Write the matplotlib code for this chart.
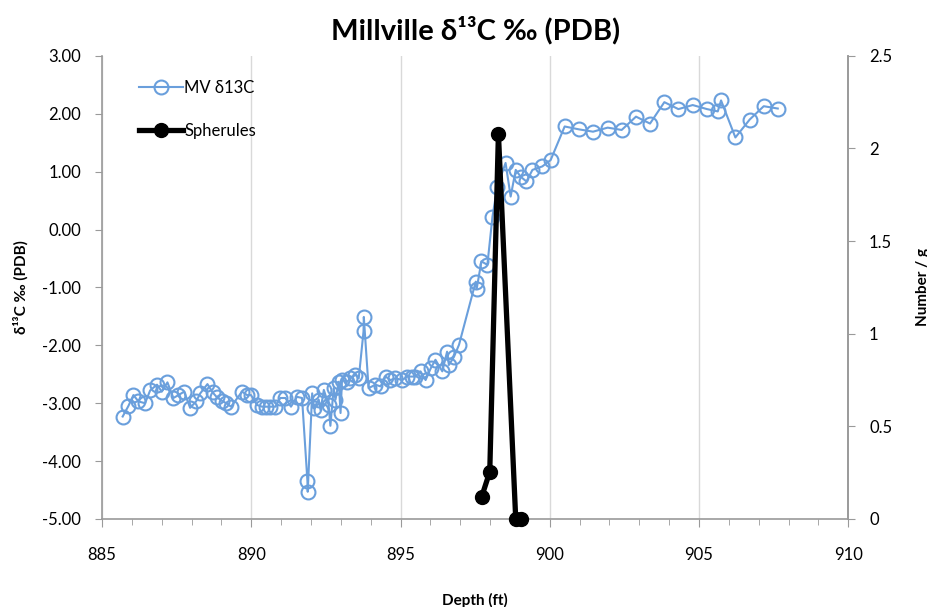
import numpy as np
import pandas as pd
from matplotlib import pyplot as plt
from matplotlib.ticker import MultipleLocator

plt.rcParams['font.family'] = ['Lato', 'DejaVu Sans']

# dados (profundidade em ft, delta 13C em permil)
profundidade_c = [885.69, 885.88, 886.05, 886.22, 886.44, 886.61, 886.84, 887.00, 887.19, 887.39,
                  887.56, 887.75, 887.95, 888.15, 888.29, 888.53, 888.70, 888.85, 889.02, 889.16,
                  889.32, 889.69, 889.86, 889.99, 890.19, 890.36, 890.50, 890.64, 890.81, 890.97,
                  891.14, 891.33, 891.53, 891.70, 891.88, 891.89, 892.04, 892.09, 892.26, 892.32,
                  892.43, 892.59, 892.65, 892.76, 892.82, 892.93, 892.99, 893.04, 893.21, 893.32,
                  893.49, 893.60, 893.76, 893.77, 893.93, 894.16, 894.33, 894.50, 894.66, 894.83,
                  895.06, 895.22, 895.39, 895.50, 895.67, 895.84, 896.01, 896.17, 896.40, 896.56,
                  896.62, 896.79, 896.96, 897.52, 897.55, 897.71, 897.91, 898.08, 898.24, 898.52,
                  898.69, 898.86, 899.03, 899.22, 899.42, 899.75, 900.03, 900.50, 900.98, 901.45,
                  901.94, 902.41, 902.89, 903.36, 903.84, 904.31, 904.79, 905.27, 905.63, 905.74,
                  906.22, 906.70, 907.17, 907.64]
delta_c = [-3.23, -3.05, -2.86, -2.97, -3.00, -2.78, -2.68, -2.80, -2.64, -2.91,
           -2.86, -2.80, -3.08, -2.97, -2.83, -2.67, -2.81, -2.90, -2.96, -3.00,
           -3.06, -2.80, -2.86, -2.86, -3.03, -3.06, -3.06, -3.06, -3.06, -2.91,
           -2.91, -3.06, -2.89, -2.91, -4.34, -4.53, -2.83, -3.09, -2.94, -3.12,
           -2.77, -3.03, -3.39, -2.74, -2.94, -2.63, -3.17, -2.60, -2.63, -2.57,
           -2.51, -2.57, -1.76, -1.51, -2.74, -2.68, -2.71, -2.54, -2.60, -2.57,
           -2.60, -2.54, -2.54, -2.54, -2.45, -2.60, -2.40, -2.25, -2.45, -2.11,
           -2.34, -2.20, -1.99, -0.90, -1.03, -0.55, -0.61, 0.22, 0.74, 1.15,
           0.57, 1.03, 0.91, 0.83, 1.03, 1.09, 1.20, 1.78, 1.73, 1.69,
           1.76, 1.72, 1.95, 1.83, 2.20, 2.08, 2.15, 2.08, 2.04, 2.23,
           1.59, 1.90, 2.13, 2.09]

profundidade_esf = [897.72, 897.99, 898.28, 898.86, 899.03]
esferulas = [0.12, 0.255, 2.08, 0.0, 0.0]

azul = '#6a9fdc'
cinza = '#9a9a9a'

fig, ax = plt.subplots(figsize=(9.28, 6.07), dpi=100)
fig.subplots_adjust(left=0.110, right=0.914, bottom=0.145, top=0.908)
ax2 = ax.twinx()

ax.plot(profundidade_c, delta_c, color=azul, lw=1.5, marker='o', ms=10,
        mfc='none', mec=azul, mew=1.5, label='MV δ13C')
ax2.plot(profundidade_esf, esferulas, color='black', lw=3.8, marker='o', ms=10,
         label='Spherules', clip_on=False)

ax.set_xlim(885, 910)
ax.set_ylim(-5, 3)
ax2.set_ylim(0, 2.5)
ax.set_xticks([885, 890, 895, 900, 905, 910])
ax.xaxis.set_minor_locator(MultipleLocator(1))
ax.set_yticks(np.arange(-5, 3.01, 1))
ax.set_yticklabels([f'{v:.2f}' for v in np.arange(-5, 3.01, 1)])
ax2.set_yticks(np.arange(0, 2.51, 0.5))
ax2.set_yticklabels(['0', '0.5', '1', '1.5', '2', '2.5'])

ax.grid(axis='x', color='#d9d9d9', lw=1)
ax.set_axisbelow(True)

for a in (ax, ax2):
    a.spines['top'].set_visible(False)
    for s in ('left', 'right', 'bottom'):
        a.spines[s].set_color(cinza)
        a.spines[s].set_linewidth(1.2)
ax2.spines['left'].set_visible(False)
ax2.spines['bottom'].set_visible(False)

ax.tick_params(axis='x', which='major', length=6, color=cinza, labelsize=12, pad=14)
ax.tick_params(axis='x', which='minor', length=4, color=cinza)
ax.tick_params(axis='y', length=5, color=cinza, labelsize=12, pad=10)
ax2.tick_params(axis='y', length=5, color=cinza, labelsize=12, pad=10)

ax.set_title('Millville δ¹³C ‰ (PDB)', fontsize=21, fontweight='bold', pad=12)
ax.set_xlabel('Depth (ft)', fontsize=11, fontweight='bold', labelpad=22)
ax.set_ylabel('δ¹³C ‰ (PDB)', fontsize=11, fontweight='bold')
ax.yaxis.set_label_coords(-0.099, 0.5)
ax2.set_ylabel('Number / g', fontsize=11, fontweight='bold', rotation=90, va='center')
ax2.yaxis.set_label_coords(1.1, 0.5)

l1, r1 = ax.get_legend_handles_labels()
l2, r2 = ax2.get_legend_handles_labels()
ax2.legend(l1 + l2, r1 + r2, loc='upper left', bbox_to_anchor=(0.03, 0.98),
           frameon=False, fontsize=12, labelspacing=1.6, handlelength=2.6,
           handletextpad=0.1)

plt.savefig('out.png', dpi=100)
